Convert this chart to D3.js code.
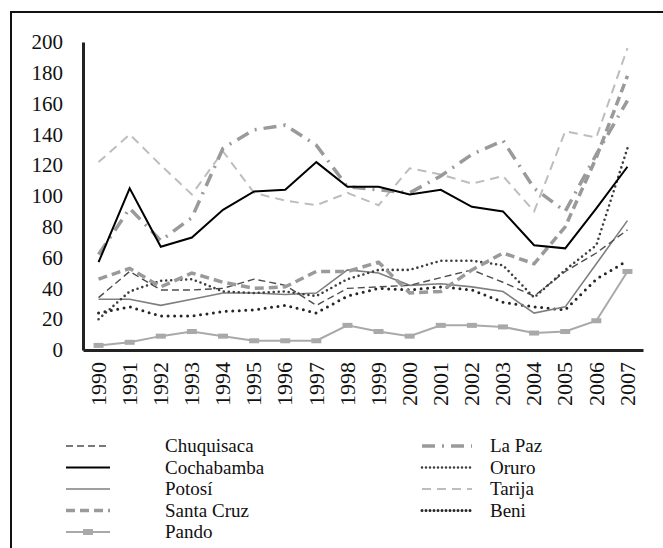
<!DOCTYPE html>
<html>
<head>
<meta charset="utf-8">
<script src="https://cdn.jsdelivr.net/npm/d3@7"></script>
<style>
  body { margin: 0; background: #fff; }
  svg text { font-family: "Liberation Serif", "Times New Roman", Tinos, "DejaVu Serif", serif; }
</style>
</head>
<body>
<div id="chart"></div>
<script>
const years = ['1990', '1991', '1992', '1993', '1994', '1995', '1996', '1997', '1998', '1999',
  '2000', '2001', '2002', '2003', '2004', '2005', '2006', '2007'];
const yTicks = [0, 20, 40, 60, 80, 100, 120, 140, 160, 180, 200];

const chuquisaca = [34, 51, 39, 39, 40, 46, 42, 29, 40, 41, 42, 47, 52, 44, 35, 51, 63, 78];
const laPaz = [62, 92, 71, 86, 131, 143, 146, 133, 106, 104, 102, 113, 127, 136, 105, 90, 127, 162];
const cochabamba = [57, 105, 67, 73, 91, 103, 104, 122, 106, 106, 101, 104, 93, 90, 68, 66, 92, 119];
const oruro = [20, 38, 45, 46, 38, 37, 38, 35, 46, 52, 52, 58, 58, 55, 34, 52, 68, 131];
const potosi = [33, 33, 29, 33, 37, 37, 36, 37, 52, 50, 42, 43, 41, 38, 24, 28, 56, 84];
const tarija = [122, 140, 120, 101, 129, 102, 97, 94, 102, 94, 118, 114, 108, 113, 90, 142, 138, 196];
const santaCruz = [46, 53, 41, 50, 44, 40, 41, 51, 51, 57, 37, 38, 52, 63, 56, 80, 125, 178];
const beni = [24, 28, 22, 22, 25, 26, 29, 24, 35, 40, 39, 41, 39, 31, 28, 26, 46, 58];
const pando = [3, 5, 9, 12, 9, 6, 6, 6, 16, 12, 9, 16, 16, 15, 11, 12, 19, 51];

const series = [
  { name: 'Chuquisaca', values: chuquisaca, color: '#4d4d4d', width: 1.4, dash: '7 4', cap: 'butt' },
  { name: 'La Paz', values: laPaz, color: '#9a9a9a', width: 3.5, dash: '13 7 2 7', cap: 'butt' },
  { name: 'Cochabamba', values: cochabamba, color: '#000000', width: 2, dash: null, cap: 'butt' },
  { name: 'Oruro', values: oruro, color: '#3d3d3d', width: 2.6, dash: '0 5', cap: 'round' },
  { name: 'Potosí', values: potosi, color: '#7f7f7f', width: 1.6, dash: null, cap: 'butt' },
  { name: 'Tarija', values: tarija, color: '#bdbdbd', width: 2, dash: '9 6', cap: 'butt' },
  { name: 'Santa Cruz', values: santaCruz, color: '#9a9a9a', width: 3.5, dash: '9 5', cap: 'butt' },
  { name: 'Beni', values: beni, color: '#262626', width: 3, dash: '0 6.5', cap: 'round' },
  { name: 'Pando', values: pando, color: '#a9a9a9', width: 2, dash: null, cap: 'butt', marker: true }
];

// legend order, left column then right column
const legendLeft = ['Chuquisaca', 'Cochabamba', 'Potosí', 'Santa Cruz', 'Pando'];
const legendRight = ['La Paz', 'Oruro', 'Tarija', 'Beni'];

const serif = '"Liberation Serif", "Times New Roman", Tinos, "DejaVu Serif", serif';
const width = 663;
const height = 548;
const margin = { top: 42, left: 83, right: 20, bottom: 198 };

const svg = d3.select('#chart')
  .append('svg')
  .attr('width', width)
  .attr('height', height);

// frame (only top and left edges fall inside the picture)
svg.append('path')
  .attr('d', `M11,${height + 2}V12H${width + 2}`)
  .attr('fill', 'none')
  .attr('stroke', '#111')
  .attr('stroke-width', 2);

const x = d3.scaleBand()
  .domain(years)
  .range([margin.left, width - margin.right]);

const y = d3.scaleLinear()
  .domain([0, 200])
  .range([height - margin.bottom, margin.top]);

const cx = (i) => x(years[i]) + x.bandwidth() / 2;

// y axis
const yAxis = svg.append('g')
  .attr('transform', `translate(${margin.left},0)`)
  .call(d3.axisLeft(y).tickValues(yTicks).tickSize(0).tickPadding(20));
yAxis.attr('font-family', serif);
yAxis.select('.domain').attr('stroke', '#222').attr('stroke-width', 3);
yAxis.selectAll('text')
  .style('font-family', serif)
  .attr('font-size', 21)
  .attr('fill', '#111');

// x axis
const xAxis = svg.append('g')
  .attr('transform', `translate(0,${height - margin.bottom})`)
  .call(d3.axisBottom(x).tickSize(0).tickPadding(0));
xAxis.attr('font-family', serif);
xAxis.select('.domain').attr('stroke', '#222').attr('stroke-width', 3);
xAxis.selectAll('text')
  .style('font-family', serif)
  .attr('font-size', 22)
  .attr('fill', '#111')
  .attr('transform', 'translate(0,12) rotate(-90)')
  .attr('text-anchor', 'end')
  .attr('dy', '0.33em')
  .attr('y', 0)
  .attr('x', 0);

const line = d3.line()
  .x((d, i) => cx(i))
  .y((d) => y(d));

const plot = svg.append('g');

const drawOrder = ['Pando', 'Beni', 'Potosí', 'Chuquisaca', 'Oruro', 'Santa Cruz', 'Tarija', 'La Paz', 'Cochabamba'];
drawOrder.forEach((name) => {
  const s = series.find((d) => d.name === name);
  plot.append('path')
    .datum(s.values)
    .attr('d', line)
    .attr('fill', 'none')
    .attr('stroke', s.color)
    .attr('stroke-width', s.width)
    .attr('stroke-dasharray', s.dash)
    .attr('stroke-linecap', s.cap)
    .attr('stroke-linejoin', 'miter');
  if (s.marker) {
    plot.selectAll(null)
      .data(s.values)
      .join('rect')
      .attr('x', (d, i) => cx(i) - 5)
      .attr('y', (d) => y(d) - 2.5)
      .attr('width', 10)
      .attr('height', 5)
      .attr('fill', s.color);
  }
});

// legend
function drawLegend(names, x0, x1, textX, top) {
  const rowH = 21.5;
  names.forEach((name, k) => {
    const s = series.find((d) => d.name === name);
    const ly = top + k * rowH;
    svg.append('line')
      .attr('x1', x0)
      .attr('x2', x1)
      .attr('y1', ly)
      .attr('y2', ly)
      .attr('stroke', s.color)
      .attr('stroke-width', s.width)
      .attr('stroke-dasharray', s.dash === '0 6.5' || s.dash === '0 5' ? '0 4' : s.dash)
      .attr('stroke-linecap', s.cap);
    if (s.marker) {
      svg.append('rect')
        .attr('x', (x0 + x1) / 2 - 5)
        .attr('y', ly - 3)
        .attr('width', 10)
        .attr('height', 6)
        .attr('fill', s.color);
    }
    svg.append('text')
      .attr('x', textX)
      .attr('y', ly)
      .attr('dy', '0.33em')
      .attr('font-size', 19)
      .style('font-family', serif)
      .attr('fill', '#111')
      .text(name);
  });
}

drawLegend(legendLeft, 66, 110, 165, 446);
drawLegend(legendRight, 422, 472, 490, 446);
</script>
</body>
</html>
